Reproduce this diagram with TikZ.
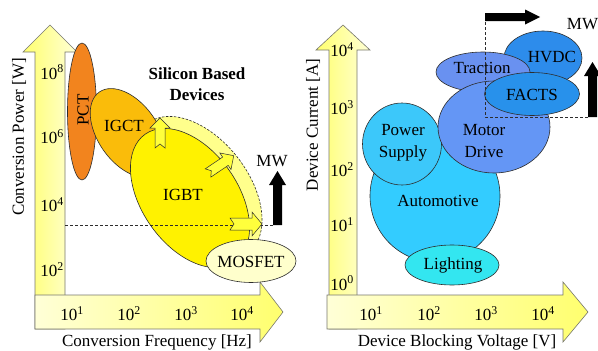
\documentclass[tikz,border=0pt]{standalone}
\usepackage{fontspec}
\setmainfont{Liberation Serif}
\usetikzlibrary{shapes.geometric}

\definecolor{edgec}{RGB}{45,45,45}
\definecolor{axisedge}{RGB}{120,120,110}
\definecolor{pctc}{RGB}{242,132,30}
\definecolor{igctc}{RGB}{250,188,10}
\definecolor{igbtc}{RGB}{255,242,0}
\definecolor{regc}{RGB}{255,255,140}
\definecolor{blkarrc}{RGB}{255,255,60}
\definecolor{mosc}{RGB}{255,255,204}
\definecolor{autoc}{RGB}{51,204,255}
\definecolor{psc}{RGB}{60,200,250}
\definecolor{motc}{RGB}{100,150,245}
\definecolor{tracc}{RGB}{105,145,240}
\definecolor{hvdcc}{RGB}{45,140,235}
\definecolor{factsc}{RGB}{40,145,235}
\definecolor{lightc}{RGB}{51,230,240}
\definecolor{ylo}{RGB}{255,255,215}
\definecolor{yhi}{RGB}{255,255,110}

\newcommand{\notchedarrow}[6]{% tail x, tail y, angle, length, shaft half, head half
  \begin{scope}[shift={(#1,#2)}, rotate=#3]
    \draw[blockarrow] (0,-#5) -- (#4-10,-#5) -- (#4-10,-#6) -- (#4,0)
      -- (#4-10,#6) -- (#4-10,#5) -- (0,#5) -- (4,0) -- cycle;
  \end{scope}}

\begin{document}
\begin{tikzpicture}[x=1pt,y=-1pt,
  ell/.style={ellipse, draw=edgec, line width=0.6pt, inner sep=0pt, outer sep=0pt},
  lbl/.style={inner sep=0pt, outer sep=0pt, font=\fontsize{17}{21.5}\selectfont, align=center},
  vaxis/.style={draw=axisedge, line width=0.6pt, left color=yhi, right color=ylo},
  haxis/.style={draw=axisedge, line width=0.6pt, left color=ylo, right color=yhi},
  blockarrow/.style={draw=edgec, line width=0.5pt, fill=blkarrc},
  marker/.style={dash pattern=on 3pt off 2pt, line width=0.6pt, draw=edgec},
  bigarrow/.style={fill=black}]

\useasboundingbox (0,0) rectangle (598,351);
\fill[white] (0,0) rectangle (598,351);

% ---------------- left panel: axes ----------------
\path[vaxis] (35,329) -- (35,52) -- (23,52) -- (50,25) -- (77,52) -- (65,52) -- (65,329) -- cycle;
\path[haxis] (35,295) -- (260,295) -- (260,282) -- (283,312) -- (260,342) -- (260,329) -- (35,329) -- cycle;

\node[lbl] (lp8) at (52,72)  {10\textsuperscript{8}};
\node[lbl] (lp6) at (52,137) {10\textsuperscript{6}};
\node[lbl] (lp4) at (52,205) {10\textsuperscript{4}};
\node[lbl] (lp2) at (52,270) {10\textsuperscript{2}};
\node[lbl] (lf1) at (72,314)  {10\textsuperscript{1}};
\node[lbl] (lf2) at (129,314) {10\textsuperscript{2}};
\node[lbl] (lf3) at (186,314) {10\textsuperscript{3}};
\node[lbl] (lf4) at (242,314) {10\textsuperscript{4}};

\node[lbl, rotate=90] (lyl) at (19,137) {Conversion Power [W]};
\node[lbl, anchor=base] (lxl) at (157,346.5) {Conversion Frequency [Hz]};

% ---------------- left panel: device regions ----------------
\node[ell, dashed, dash pattern=on 2.5pt off 1.5pt, fill=regc, rotate=-52,
      minimum width=164, minimum height=100] (reg) at (198,188) {};
\node[ell, fill=pctc, minimum width=29, minimum height=137] (pct) at (82,111.5) {};
\node[ell, fill=igctc, rotate=-55, minimum width=100, minimum height=60] (igct) at (128,133) {};
\node[ell, fill=igbtc, rotate=-55, minimum width=156, minimum height=96] (igbt) at (190,198) {};

\coordinate (lmark0) at (65,225);
\coordinate (lmark1) at (273,225);
\draw[marker] (lmark0) -- (lmark1);

\notchedarrow{160}{148}{90}{30}{5}{10}
\notchedarrow{208}{173}{34}{31}{5}{10}
\notchedarrow{230}{224}{0}{32}{6}{12}

\node[ell, fill=mosc, minimum width=90, minimum height=43] (mos) at (251,261) {};

\node[lbl, rotate=90] (tpct) at (83,110) {PCT};
\node[lbl] (tigct) at (124,126) {IGCT};
\node[lbl] (tigbt) at (183,195) {IGBT};
\node[lbl] (tmos) at (251,262) {MOSFET};
\node[lbl, font=\bfseries\fontsize{17}{21}\selectfont] (tsi) at (197,84) {Silicon Based\\Devices};

\path[bigarrow] (273,225) -- (273,185) -- (269,185) -- (277.5,171) -- (286,185) -- (282,185) -- (282,225) -- cycle;
\node[lbl] (lmw) at (272,161) {MW};

% ---------------- right panel: axes ----------------
\path[vaxis] (329,329) -- (329,50) -- (316,50) -- (343,25) -- (370,50) -- (357,50) -- (357,329) -- cycle;
\path[haxis] (327,295) -- (563,295) -- (563,282) -- (588,312) -- (563,342) -- (563,329) -- (327,329) -- cycle;

\node[lbl] (rc4) at (342,50)  {10\textsuperscript{4}};
\node[lbl] (rc3) at (342,108) {10\textsuperscript{3}};
\node[lbl] (rc2) at (342,170) {10\textsuperscript{2}};
\node[lbl] (rc1) at (342,225) {10\textsuperscript{1}};
\node[lbl] (rc0) at (342,283) {10\textsuperscript{0}};
\node[lbl] (rv1) at (371,314) {10\textsuperscript{1}};
\node[lbl] (rv2) at (429,314) {10\textsuperscript{2}};
\node[lbl] (rv3) at (486,314) {10\textsuperscript{3}};
\node[lbl] (rv4) at (543,314) {10\textsuperscript{4}};

\node[lbl, rotate=90] (ryl) at (313,125) {Device Current [A]};
\node[lbl, anchor=base] (rxl) at (457,346.5) {Device Blocking Voltage [V]};

% ---------------- right panel: application regions ----------------
\node[ell, fill=hvdcc, minimum width=78, minimum height=54] (hvdc) at (543,58) {};
\node[ell, fill=tracc, minimum width=94, minimum height=40] (trac) at (483,72) {};
\node[ell, fill=autoc, minimum width=130, minimum height=132] (auto) at (435,196) {};
\node[ell, fill=psc, minimum width=79, minimum height=82] (ps) at (402,144) {};
\node[ell, fill=motc, minimum width=112, minimum height=92] (mot) at (494,127) {};
\node[ell, fill=factsc, minimum width=95, minimum height=43] (facts) at (532,94) {};
\node[ell, fill=lightc, minimum width=94, minimum height=40] (light) at (452,265) {};

\node[lbl] (thvdc) at (552,57) {HVDC};
\node[lbl] (ttrac) at (482,68) {Traction};
\node[lbl] (tauto) at (438,201) {Automotive};
\node[lbl] (tps) at (403,143) {Power\\Supply};
\node[lbl] (tmot) at (484,141) {Motor\\Drive};
\node[lbl] (tfacts) at (532,95) {FACTS};
\node[lbl] (tlight) at (453,265) {Lighting};

\coordinate (rmark0) at (485,17);
\coordinate (rmark1) at (485,117);
\coordinate (rmark2) at (588,117);
\draw[marker] (rmark0) -- (rmark1) -- (rmark2);

\path[bigarrow] (485,13) -- (525,13) -- (525,9.5) -- (540,17) -- (525,24.5) -- (525,21) -- (485,21) -- cycle;
\path[bigarrow] (588,117) -- (588,76) -- (584,76) -- (592.5,62) -- (601,76) -- (597,76) -- (597,117) -- cycle;
\node[lbl] (rmw) at (582.5,24) {MW};

\end{tikzpicture}
\end{document}
